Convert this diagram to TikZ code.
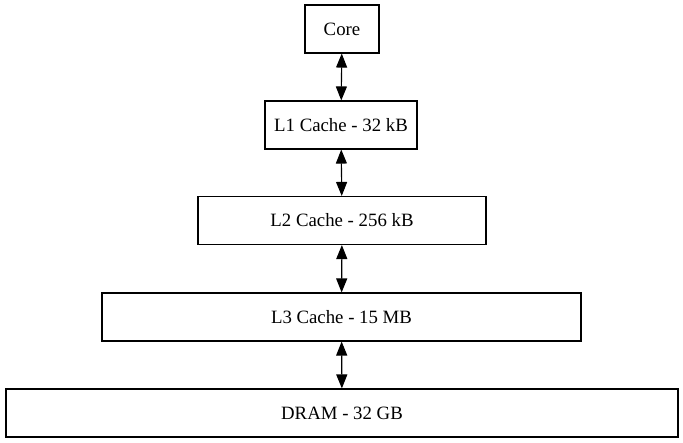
\documentclass[tikz,border=0pt]{standalone}
\usepackage{fontspec}
\setmainfont{Liberation Serif}
\usetikzlibrary{arrows.meta}
\begin{document}
\begin{tikzpicture}[x=1pt,y=-1pt,
  box/.style={draw,line width=1.1pt,minimum height=48pt,inner sep=0pt,font=\fontsize{18.8}{20}\selectfont},
  link/.style={line width=1.1pt,{Triangle[length=14pt,width=11pt]}-{Triangle[length=14pt,width=11pt]}}]
\useasboundingbox (0,0) rectangle (683,443);
\node[box,minimum width=74pt] (core) at (342,29) {Core};
\node[box,minimum width=152pt] (l1) at (341,125) {L1 Cache - 32 kB};
\node[box,minimum width=288pt] (l2) at (342,220.5) {L2 Cache - 256 kB};
\node[box,minimum width=479pt] (l3) at (341.5,317) {L3 Cache - 15 MB};
\node[box,minimum width=672pt] (dram) at (342,413) {DRAM - 32 GB};
\draw[link] (core) -- (l1);
\draw[link] (l1) -- (l2);
\draw[link] (l2) -- (l3);
\draw[link] (l3) -- (dram);
\end{tikzpicture}
\end{document}
